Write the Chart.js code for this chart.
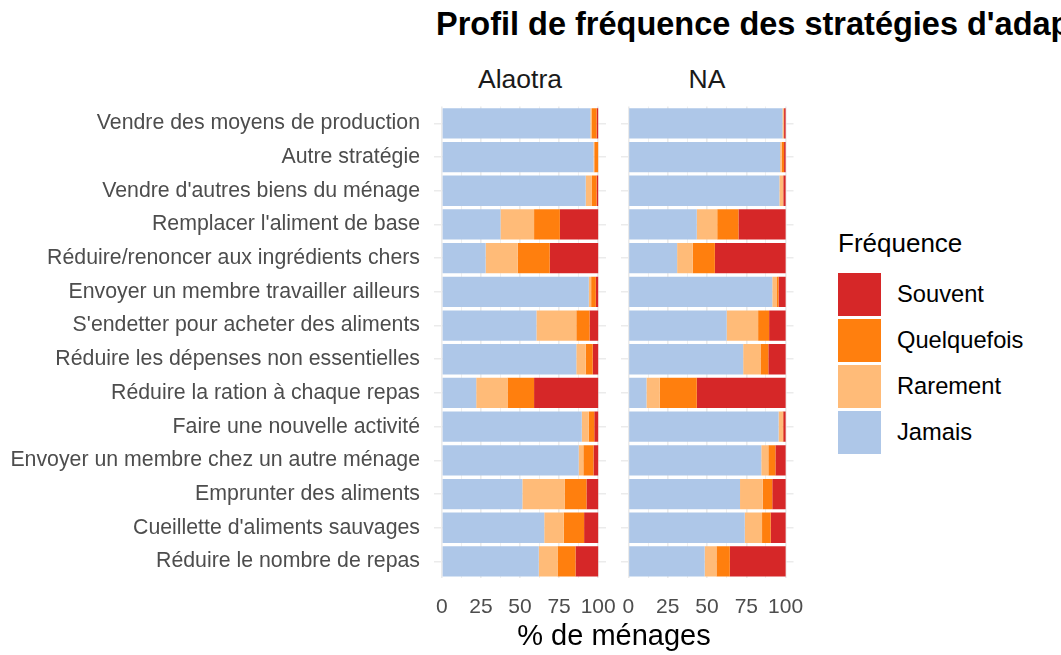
<!DOCTYPE html>
<html lang="fr">
<head>
<meta charset="utf-8">
<title>Profil de fréquence des stratégies d'adaptation</title>
<script src="https://cdn.jsdelivr.net/npm/chart.js@4.4.1/dist/chart.umd.min.js"></script>
<style>
  html, body { margin: 0; padding: 0; background: #fff; overflow: hidden; }
  #fig {
    position: relative;
    width: 1061px;
    height: 655px;
    overflow: hidden;
    font-family: 'Liberation Sans', Arial, sans-serif;
  }
  #fig canvas { position: absolute; top: 0; }
  .titre {
    position: absolute; left: 436px; top: 6px;
    font-size: 32.5px; font-weight: bold; color: #000; white-space: nowrap;
  }
  .facette {
    position: absolute; top: 64px; width: 172px; text-align: center;
    font-size: 26.5px; color: #1a1a1a;
  }
  .axe-x {
    position: absolute; left: 434px; width: 360px; top: 619px; text-align: center;
    font-size: 29px; color: #000;
  }
  .legende { position: absolute; left: 838px; top: 228px; }
  .legende .lt { font-size: 26px; color: #000; margin-bottom: 12px; }
  .legende .item { display: flex; align-items: center; height: 46px; }
  .legende .cle { width: 43px; height: 43px; margin-right: 16px; }
  .legende .lab { font-size: 23.7px; color: #000; }
</style>
</head>
<body>
<div id="fig">
  <div class="titre">Profil de fréquence des stratégies d'adaptation</div>
  <div class="facette" style="left:434px">Alaotra</div>
  <div class="facette" style="left:621px">NA</div>
  <canvas id="chartAlaotra" width="640" height="655" style="left:0"></canvas>
  <canvas id="chartNA" width="260" height="655" style="left:560px"></canvas>
  <div class="axe-x">% de ménages</div>
  <div class="legende" id="legende"></div>
</div>
<script>
// Stratégies, de haut en bas
const strategies = [
  "Vendre des moyens de production",
  "Autre stratégie",
  "Vendre d'autres biens du ménage",
  "Remplacer l'aliment de base",
  "Réduire/renoncer aux ingrédients chers",
  "Envoyer un membre travailler ailleurs",
  "S'endetter pour acheter des aliments",
  "Réduire les dépenses non essentielles",
  "Réduire la ration à chaque repas",
  "Faire une nouvelle activité",
  "Envoyer un membre chez un autre ménage",
  "Emprunter des aliments",
  "Cueillette d'aliments sauvages",
  "Réduire le nombre de repas",
];

// % de ménages — Alaotra
const alaotraJamais      = [95, 97, 92, 37.5, 28, 94, 60.5, 86, 22, 89.5, 87.5, 51.5, 65.5, 62];
const alaotraRarement    = [1, 0.5, 4, 21.5, 20.5, 1.5, 25.5, 6, 20, 4.5, 3, 27, 12.5, 12];
const alaotraQuelquefois = [3, 2.5, 3, 16.5, 20.5, 3, 8.5, 4.5, 17, 3.5, 6.5, 14, 13, 11.5];
const alaotraSouvent     = [1, 0, 1, 24.5, 31, 1.5, 5.5, 3.5, 41, 2.5, 3, 7.5, 9, 14.5];

// % de ménages — NA
const naJamais      = [98, 96.5, 96, 43.5, 31, 91.5, 62.5, 73, 11.5, 95.5, 84.5, 71, 74, 48.5];
const naRarement    = [1, 1, 2.5, 13, 10, 3, 20, 11, 8.5, 2.5, 4.5, 14.5, 11, 7.5];
const naQuelquefois = [0, 1.5, 0, 13.5, 14, 1, 7, 5, 23.5, 0.5, 4.5, 6, 5.5, 8.5];
const naSouvent     = [1, 1, 1.5, 30, 45, 4.5, 10.5, 11, 56.5, 1.5, 6.5, 8.5, 9.5, 35.5];

const frequences = ['Jamais', 'Rarement', 'Quelquefois', 'Souvent'];
const couleurs = ['#aec7e8', '#ffbb78', '#ff7f0e', '#d62728'];
const graduations = [0, 12.5, 25, 37.5, 50, 62.5, 75, 87.5, 100];

const POLICE = "'Liberation Sans', Arial, sans-serif";

function creerFacette(canvasId, series, avecLabels, padding) {
  const ctx = document.getElementById(canvasId).getContext('2d');
  return new Chart(ctx, {
    type: 'bar',
    data: {
      labels: strategies,
      datasets: series.map((valeurs, i) => ({
        label: frequences[i],
        data: valeurs,
        backgroundColor: couleurs[i],
        borderWidth: 0,
        barPercentage: 0.9,
        categoryPercentage: 1,
      })),
    },
    options: {
      indexAxis: 'y',
      responsive: false,
      animation: false,
      layout: { padding },
      plugins: {
        legend: { display: false },
        tooltip: { enabled: false },
      },
      scales: {
        x: {
          stacked: true,
          min: -5,
          max: 105,
          afterBuildTicks: (scale) => {
            scale.ticks = graduations.map(v => ({ value: v }));
          },
          afterFit: (scale) => {
            scale.height = 40;
            // pas de marge supplémentaire pour les libellés qui débordent
            scale.paddingLeft = 0;
            scale.paddingRight = 0;
          },
          border: { display: false },
          grid: {
            drawTicks: false,
            color: '#ebebeb',
            lineWidth: (c) => (c.tick && c.tick.value % 25 === 0 ? 1.6 : 0.8),
          },
          ticks: {
            autoSkip: false,
            maxRotation: 0,
            padding: 16.5,
            color: '#4d4d4d',
            font: { size: 21, family: POLICE },
            callback: (v) => (v % 25 === 0 ? String(v) : ''),
          },
        },
        y: {
          stacked: true,
          afterFit: (scale) => { scale.width = avecLabels ? 434 : 0; },
          border: { display: false },
          grid: {
            offset: false,
            drawTicks: false,
            color: '#ebebeb',
            lineWidth: 1.6,
          },
          ticks: {
            display: avecLabels,
            padding: 14,
            color: '#4d4d4d',
            font: { size: 21.3, family: POLICE },
          },
        },
      },
    },
  });
}

creerFacette('chartAlaotra',
  [alaotraJamais, alaotraRarement, alaotraQuelquefois, alaotraSouvent],
  true, { top: 106.5, right: 34, bottom: 36.7, left: 0 });

creerFacette('chartNA',
  [naJamais, naRarement, naQuelquefois, naSouvent],
  false, { top: 106.5, right: 26.5, bottom: 36.7, left: 60.5 });

// Légende : Souvent en haut, Jamais en bas
const legende = document.getElementById('legende');
legende.innerHTML = '<div class="lt">Fréquence</div>' +
  frequences.map((f, i) => ({ f, c: couleurs[i] })).reverse()
    .map(e => `<div class="item"><div class="cle" style="background:${e.c}"></div><span class="lab">${e.f}</span></div>`)
    .join('');
</script>
</body>
</html>
